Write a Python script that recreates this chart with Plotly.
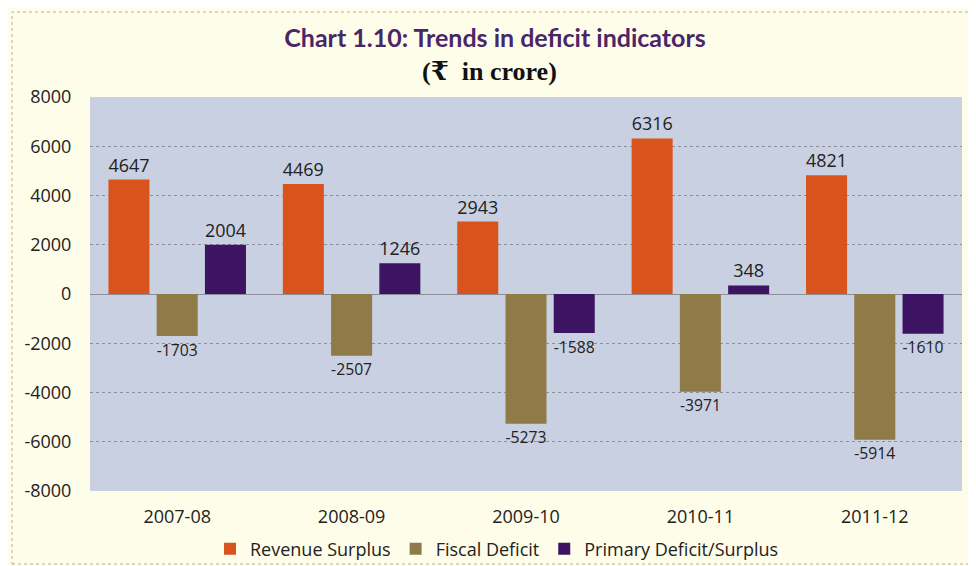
import plotly.graph_objects as go

years = ["2007-08", "2008-09", "2009-10", "2010-11", "2011-12"]
revenue_surplus = [4647, 4469, 2943, 6316, 4821]
fiscal_deficit = [-1703, -2507, -5273, -3971, -5914]
primary_deficit = [2004, 1246, -1588, 348, -1610]
y_ticks = [-8000, -6000, -4000, -2000, 0, 2000, 4000, 6000, 8000]

series = [
    ("Revenue Surplus", revenue_surplus, "#d9541c"),
    ("Fiscal Deficit", fiscal_deficit, "#8f7b48"),
    ("Primary Deficit/Surplus", primary_deficit, "#3c1462"),
]

FONT = "'Open Sans', Lato, sans-serif"
FS = 18

fig = go.Figure()
for name, vals, col in series:
    fig.add_trace(go.Bar(
        x=years, y=vals, name=name, marker=dict(color=col, line=dict(width=0)),
        text=[str(v) for v in vals], textposition="outside",
        textfont=dict(family=FONT, size=FS, color="#222222"),
        cliponaxis=False,
    ))

W, H = 976, 566
OFF = 8  # page offset of the figure in the browser
# target plot area in screen pixels
PL, PR, PT, PB = 90, 962, 97, 491
ml, mt = PL - OFF, PT - OFF
mr = W - (PR - OFF)
mb = H - (PB - OFF)
pw, ph = W - ml - mr, H - mt - mb

def px_x(x):
    return (x - OFF - ml) / pw

def px_y(y):
    return (H - mb - (y - OFF)) / ph

fig.update_layout(
    width=W, height=H,
    margin=dict(l=ml, r=mr, t=mt, b=mb, autoexpand=False),
    paper_bgcolor="#fefde9",
    plot_bgcolor="#c9d0e1",
    barmode="group", bargap=0.17, bargroupgap=0.15,
    font=dict(family=FONT, size=FS, color="#222222"),
    showlegend=True,
    legend=dict(orientation="h", x=px_x(497), xanchor="center", y=px_y(549), yanchor="middle",
                font=dict(family=FONT, size=FS, color="#222222"), bgcolor="rgba(0,0,0,0)",
                tracegroupgap=0),
    title=dict(text="<b>Chart 1.10: Trends in deficit indicators</b>", x=(495 - OFF) / W, xanchor="center",
               y=1 - (38 - OFF) / H, yanchor="middle", yref="container", xref="container",
               font=dict(family="Lato, sans-serif", size=25, color="#4a2668")),
    annotations=[dict(text="<b>(₹  in crore)</b>", x=px_x(489), xref="paper", y=px_y(72), yref="paper",
                      showarrow=False, xanchor="center", yanchor="middle",
                      font=dict(family="'Liberation Serif', 'DejaVu Serif', serif", size=26, color="#111111"))],
    shapes=[dict(type="rect", xref="paper", yref="paper",
                 x0=px_x(12), x1=px_x(970), y0=px_y(564), y1=px_y(12),
                 line=dict(color="#b0b0a0", width=1, dash="dot"), layer="below")],
)
fig.update_yaxes(range=[-8000, 8000], tickvals=y_ticks, ticktext=[str(v) for v in y_ticks],
                 showgrid=True, gridcolor="#8a8f9a", griddash="dot", gridwidth=1,
                 zeroline=True, zerolinecolor="#8a8f9a", zerolinewidth=1,
                 ticks="outside", ticklen=14, tickcolor="rgba(0,0,0,0)",
                 tickfont=dict(family=FONT, size=FS, color="#222222"), showline=False)
fig.update_xaxes(type="category", showgrid=False, ticks="outside", ticklen=9, tickcolor="rgba(0,0,0,0)",
                 tickfont=dict(family=FONT, size=FS, color="#222222"), showline=False)

fig.write_html("out.html")
